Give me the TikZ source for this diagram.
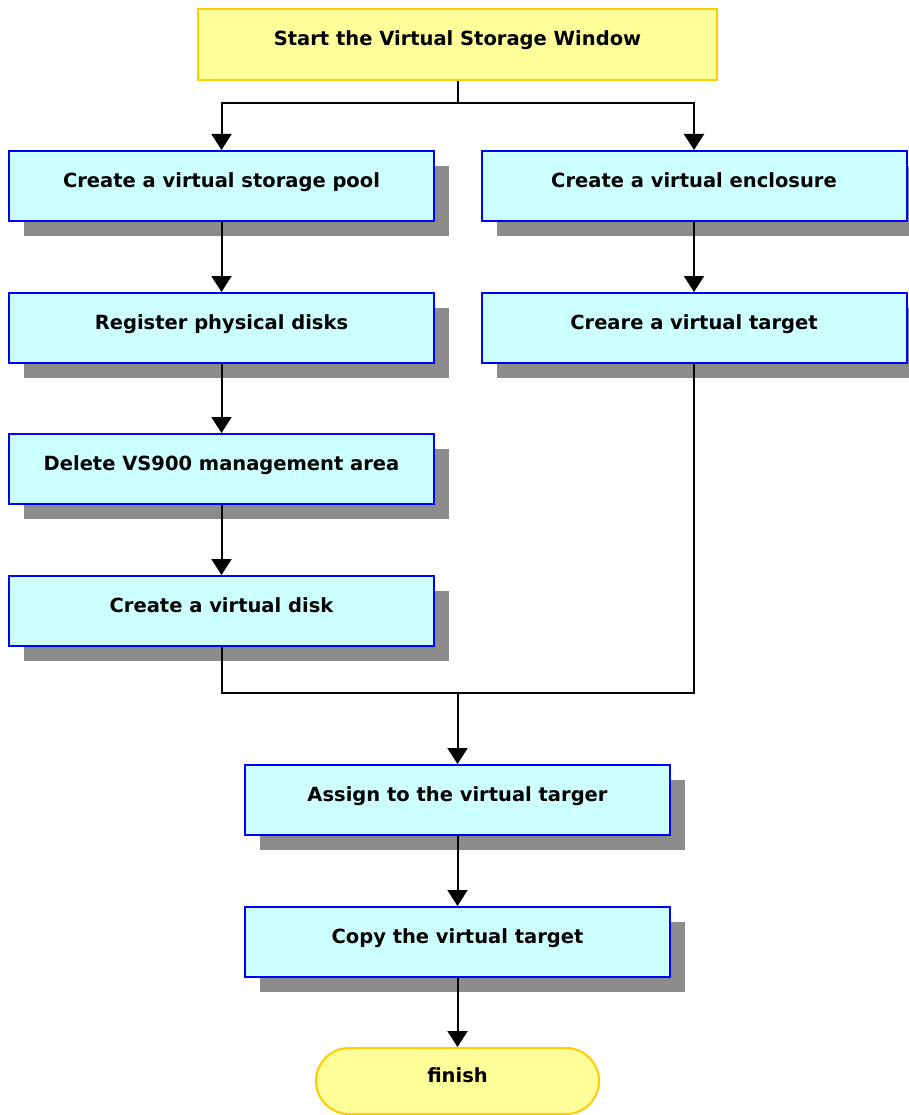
\documentclass[tikz,border=0pt]{standalone}
\usepackage{fontspec}
\setmainfont{DejaVu Sans}
\usetikzlibrary{arrows.meta,shadows}
\definecolor{boxfill}{HTML}{CCFFFF}
\definecolor{boxline}{HTML}{0000FF}
\definecolor{termfill}{HTML}{FFFF99}
\definecolor{termline}{HTML}{FFCC00}
\definecolor{shadowgray}{HTML}{8C8C8C}
\begin{document}
\begin{tikzpicture}[x=1pt,y=-1pt,
  txt/.style={font=\fontsize{19.5}{22}\selectfont\bfseries, text height=15pt, text depth=12pt},
  stepbox/.style={txt, draw=boxline, line width=2pt, fill=boxfill, minimum width=425pt, minimum height=70pt, inner sep=0pt,
    drop shadow={shadow xshift=15pt, shadow yshift=-15pt, fill=shadowgray, opacity=1}},
  startbox/.style={txt, draw=termline, line width=2pt, fill=termfill, minimum width=519pt, minimum height=71pt, inner sep=0pt},
  endbox/.style={txt, draw=termline, line width=2pt, fill=termfill, minimum width=283pt, minimum height=66pt, inner sep=0pt, rounded corners=33pt},
  conn/.style={line width=2pt, black},
  arr/.style={conn, -{Triangle[width=20pt,length=16pt]}}]
\useasboundingbox (0,0) rectangle (908,1115);
\node[startbox] (start) at (457.5,44.5) {Start the Virtual Storage Window};
\node[stepbox] (pool) at (221.5,186) {Create a virtual storage pool};
\node[stepbox] (reg) at (221.5,328) {Register physical disks};
\node[stepbox] (del) at (221.5,469) {Delete VS900 management area};
\node[stepbox] (disk) at (221.5,611) {Create a virtual disk};
\node[stepbox] (encl) at (694,186) {Create a virtual enclosure};
\node[stepbox] (target) at (694,328) {Creare a virtual target};
\node[stepbox] (assign) at (457.5,800) {Assign to the virtual targer};
\node[stepbox] (copy) at (457.5,942) {Copy the virtual target};
\node[endbox] (finish) at (457.5,1081) {finish};
\coordinate (j1) at (457.5,103);
\coordinate (j2) at (457.5,693);
\draw[conn] (start.south) -- (j1);
\draw[arr] (j1) -| (pool.north);
\draw[arr] (j1) -| (encl.north);
\draw[arr] (pool) -- (reg);
\draw[arr] (reg) -- (del);
\draw[arr] (del) -- (disk);
\draw[arr] (encl) -- (target);
\draw[conn] (disk.south) |- (j2);
\draw[conn] (target.south) |- (j2);
\draw[arr] (j2) -- (assign.north);
\draw[arr] (assign) -- (copy);
\draw[arr] (copy) -- (finish);
\end{tikzpicture}
\end{document}
